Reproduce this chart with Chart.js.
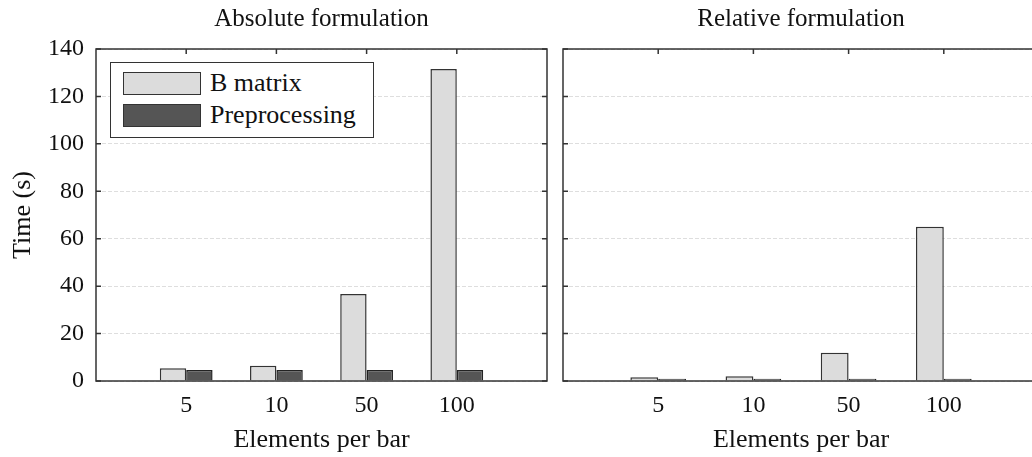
<!DOCTYPE html>
<html>
<head>
<meta charset="utf-8">
<script src="https://cdn.jsdelivr.net/npm/chart.js@4.4.1/dist/chart.umd.min.js"></script>
<style>
    html, body { margin: 0; padding: 0; background: #fff; overflow: hidden; }
    #wrap { position: relative; width: 1040px; height: 457px; }
    .panel { position: absolute; top: 0; height: 457px; }
    #leftPanel { left: 0; width: 548px; }
    #rightPanel { left: 548px; width: 491px; }
    .legend {
        position: absolute; left: 110px; top: 62px; width: 262px; height: 74px;
        border: 1.5px solid #333; background: #fff;
        font-family: "Liberation Serif", "DejaVu Serif", serif; font-size: 26px; color: #111;
    }
    .legend .row { position: absolute; left: 12px; height: 24px; display: flex; align-items: center; }
    .legend .sw { width: 76px; height: 21px; border: 1.5px solid #333; margin-right: 9px; }
</style>
</head>
<body>
<div id="wrap">
    <div class="panel" id="leftPanel">
        <canvas id="absChart" width="548" height="457"></canvas>
        <div class="legend" id="legendBox"></div>
    </div>
    <div class="panel" id="rightPanel">
        <canvas id="relChart" width="491" height="457"></canvas>
    </div>
</div>
<script>
'use strict';

// --- DADOS ---
const categories = ['5', '10', '50', '100'];
const seriesNames = ['B matrix', 'Preprocessing'];
const absBMatrix = [5.4, 6.4, 36.7, 131.6];
const absPreproc = [4.6, 4.6, 4.6, 4.6];
const relBMatrix = [1.6, 2.0, 11.9, 65.0];
const relPreproc = [1.0, 1.0, 1.0, 1.0];
const yTicks = [0, 20, 40, 60, 80, 100, 120, 140];

const FONT = '"Liberation Serif", "DejaVu Serif", serif';
const FILLS = ['#dcdcdc', '#555555'];
const EDGE = '#333333';

// empty slot on each side, like the 0..5 axis of the original
const padded = (arr) => [null, ...arr, null];
const labels = ['', ...categories, ''];

const framePlugin = {
    id: 'frame',
    afterDatasetsDraw(chart) {
        const { ctx, chartArea: a, scales: { x, y } } = chart;
        ctx.save();
        ctx.strokeStyle = EDGE;
        ctx.lineWidth = 1.5;
        ctx.strokeRect(a.left, a.top, a.right - a.left, a.bottom - a.top);
        ctx.beginPath();
        yTicks.forEach(v => {
            const py = y.getPixelForValue(v);
            ctx.moveTo(a.left, py); ctx.lineTo(a.left + 5, py);
            ctx.moveTo(a.right, py); ctx.lineTo(a.right - 5, py);
        });
        categories.forEach((c, i) => {
            const px = x.getPixelForValue(i + 1);
            ctx.moveTo(px, a.top); ctx.lineTo(px, a.top + 5);
        });
        ctx.stroke();
        ctx.restore();
    }
};

function makeChart(id, title, bm, pp, showY, yWidth) {
    const ctx = document.getElementById(id).getContext('2d');
    return new Chart(ctx, {
        type: 'bar',
        data: {
            labels: labels,
            datasets: [
                { label: seriesNames[0], data: padded(bm), backgroundColor: FILLS[0], borderColor: EDGE, borderWidth: 1.5 },
                { label: seriesNames[1], data: padded(pp), backgroundColor: FILLS[1], borderColor: '#222', borderWidth: 1.5 }
            ]
        },
        options: {
            responsive: false,
            animation: false,
            layout: { padding: { left: 0, right: showY ? 1 : 0, top: 0, bottom: 0 } },
            datasets: { bar: { categoryPercentage: 0.585, barPercentage: 1.0 } },
            plugins: {
                legend: { display: false },
                tooltip: { enabled: false },
                title: {
                    display: true, text: title, fullSize: false, color: '#111',
                    font: { family: FONT, size: 25, weight: 'normal' },
                    padding: { top: 4, bottom: 15 }
                }
            },
            scales: {
                x: {
                    offset: false,
                    grid: { display: false, drawTicks: false },
                    border: { display: false },
                    ticks: { color: '#111', font: { family: FONT, size: 24 }, padding: 10, maxRotation: 0, autoSkip: false },
                    title: { display: true, text: 'Elements per bar', color: '#111', font: { family: FONT, size: 26 }, padding: { top: 0, bottom: 1 } },
                    afterFit: (s) => { s.height = 76; s.paddingLeft = 0; s.paddingRight = 0; }
                },
                y: {
                    min: 0, max: 140,
                    afterBuildTicks: (s) => { s.ticks = yTicks.map(v => ({ value: v })); },
                    grid: { color: '#dedede', lineWidth: 1, drawTicks: false },
                    border: { display: false, dash: [4, 2] },
                    ticks: { display: showY, color: '#111', font: { family: FONT, size: 24 }, padding: 12 },
                    title: { display: showY, text: 'Time (s)', color: '#111', font: { family: FONT, size: 26 }, padding: { top: 8, bottom: 0 } },
                    afterFit: (s) => { s.width = yWidth; }
                }
            }
        },
        plugins: [framePlugin]
    });
}

const absChart = makeChart('absChart', 'Absolute formulation', absBMatrix, absPreproc, true, 96);
const relChart = makeChart('relChart', 'Relative formulation', relBMatrix, relPreproc, false, 15);

// legenda HTML construída a partir dos datasets
const legendBox = document.getElementById('legendBox');
absChart.data.datasets.forEach((ds, i) => {
    const row = document.createElement('div');
    row.className = 'row';
    row.style.top = (8 + i * 32) + 'px';
    row.innerHTML = `<div class="sw" style="background:${ds.backgroundColor}"></div><span>${ds.label}</span>`;
    legendBox.appendChild(row);
});
</script>
</body>
</html>
